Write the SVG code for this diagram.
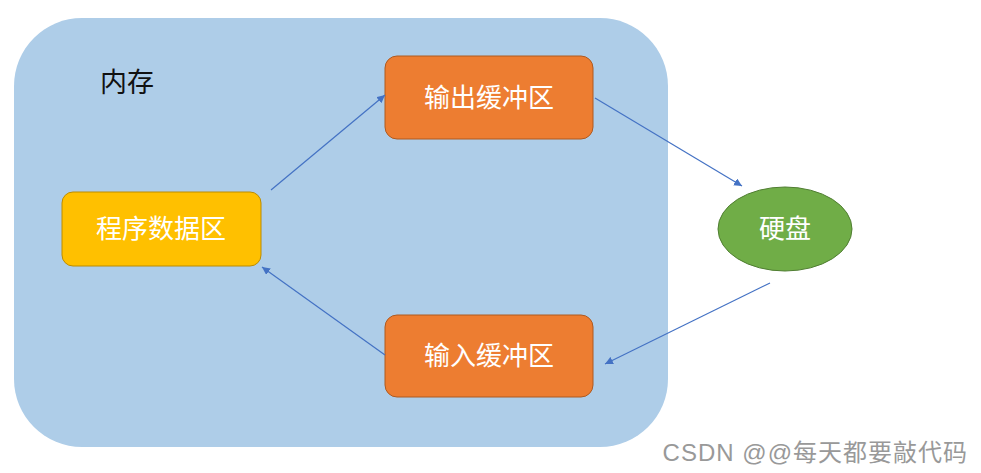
<svg xmlns="http://www.w3.org/2000/svg" width="981" height="473" viewBox="0 0 981 473">
<style>
.lbl{font-family:"Liberation Sans","Noto Sans CJK SC",sans-serif;font-size:26px;fill:#fff;text-anchor:middle;dominant-baseline:central}
.orange{fill:#ED7D31;stroke:#AE5A21;stroke-width:1}
.conn{stroke:#4472C4;stroke-width:1.2;fill:none;marker-end:url(#ah)}
</style>
<defs>
<marker id="ah" viewBox="0 0 10 10" refX="10" refY="5" markerWidth="8" markerHeight="8" markerUnits="userSpaceOnUse" orient="auto">
<path d="M0,0 L10,5 L0,10 z" fill="#4472C4"/>
</marker>
</defs>
<rect width="981" height="473" fill="#fff"/>
<g id="memory">
<rect x="14" y="18" width="654" height="429" rx="68" ry="68" fill="#AECDE8"/>
<text x="127" y="83" style="font-family:'Liberation Sans','Noto Sans CJK SC',sans-serif;font-size:27px;fill:#111;text-anchor:middle;dominant-baseline:central">内存</text>
</g>
<g id="output">
<rect class="orange" x="385" y="56" width="208" height="83" rx="12"/>
<text class="lbl" x="489" y="98">输出缓冲区</text>
</g>
<g id="program">
<rect x="62" y="192" width="199" height="74" rx="11" fill="#FFC000" stroke="#BC8C00"/>
<text class="lbl" x="161" y="229">程序数据区</text>
</g>
<g id="input">
<rect class="orange" x="385" y="315" width="208" height="82" rx="12"/>
<text class="lbl" x="489" y="356">输入缓冲区</text>
</g>
<g id="disk">
<ellipse cx="785" cy="229" rx="67" ry="42" fill="#70AD47" stroke="#507E32"/>
<text class="lbl" x="785" y="229">硬盘</text>
</g>
<g id="connectors">
<line class="conn" x1="271" y1="190" x2="385" y2="95"/>
<line class="conn" x1="595" y1="98" x2="742" y2="186"/>
<line class="conn" x1="770" y1="283" x2="605" y2="364"/>
<line class="conn" x1="385" y1="355" x2="262" y2="267"/>
</g>
<text x="968" y="452" style="font-family:'Liberation Sans','Noto Sans CJK SC',sans-serif;font-size:24px;letter-spacing:1px;fill:#999;text-anchor:end;dominant-baseline:central">CSDN @@每天都要敲代码</text>
</svg>
